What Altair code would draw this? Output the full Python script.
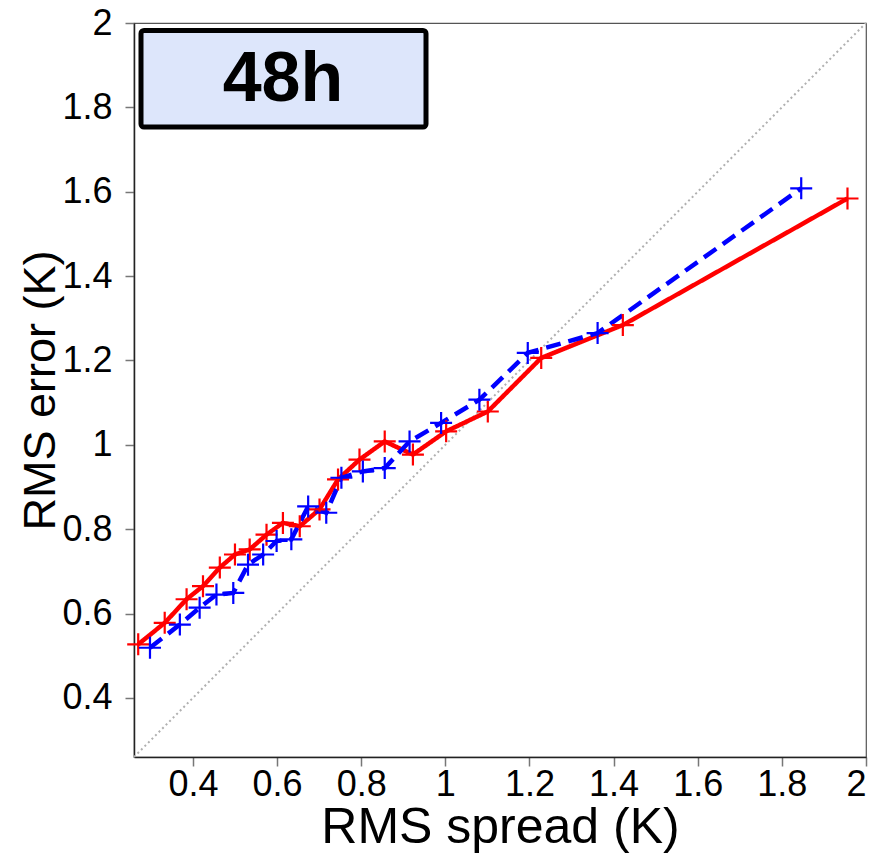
import altair as alt
import pandas as pd

# Data
red_x = [0.270, 0.333, 0.385, 0.424, 0.464, 0.500, 0.535, 0.575, 0.614, 0.654,
         0.701, 0.745, 0.796, 0.856, 0.923, 1.002, 1.101, 1.228, 1.422, 1.956]
red_y = [0.527, 0.578, 0.634, 0.665, 0.709, 0.740, 0.752, 0.787, 0.815, 0.807,
         0.847, 0.918, 0.965, 1.008, 0.977, 1.032, 1.079, 1.206, 1.284, 1.584]
blue_x = [0.298, 0.369, 0.416, 0.456, 0.496, 0.531, 0.567, 0.599, 0.634, 0.674,
          0.717, 0.753, 0.804, 0.856, 0.915, 0.990, 1.081, 1.196, 1.362, 1.846]
blue_y = [0.519, 0.574, 0.614, 0.645, 0.649, 0.716, 0.740, 0.772, 0.776, 0.854,
          0.839, 0.922, 0.937, 0.945, 1.008, 1.052, 1.107, 1.218, 1.265, 1.608]
diag_vals = [0.26, 2.0]
ticks = [0.4, 0.6, 0.8, 1.0, 1.2, 1.4, 1.6, 1.8, 2.0]
lead_label = "48h"

df = pd.concat([
    pd.DataFrame({"spread": red_x, "error": red_y, "series": "red", "order": range(len(red_x))}),
    pd.DataFrame({"spread": blue_x, "error": blue_y, "series": "blue", "order": range(len(blue_x))}),
])
diag_df = pd.DataFrame({"spread": diag_vals, "error": diag_vals})

FONT = "Liberation Sans"
xs = alt.Scale(domain=[0.26, 2.0], nice=False, zero=False)
ys = alt.Scale(domain=[0.26, 2.0], nice=False, zero=False)

x_enc = alt.X("spread:Q", scale=xs, title="RMS spread (K)",
              axis=alt.Axis(values=ticks, format="~g", grid=False, titleFontSize=50, titlePadding=0))
y_enc = alt.Y("error:Q", scale=ys, title="RMS error (K)",
              axis=alt.Axis(values=ticks, format="~g", grid=False, titleFontSize=45, titlePadding=-2))

color = alt.Color("series:N", scale=alt.Scale(domain=["red", "blue"], range=["#ff0000", "#0000ff"]), legend=None)
dash = alt.StrokeDash("series:N", scale=alt.Scale(domain=["red", "blue"], range=[[1, 0], [15, 8]]), legend=None)

diag = alt.Chart(diag_df).mark_line(color="#b0b0b0", strokeWidth=2, strokeDash=[2, 3]).encode(x=x_enc, y=y_enc)

lines = alt.Chart(df).mark_line(strokeWidth=4.5).encode(
    x=x_enc, y=y_enc, color=color, strokeDash=dash, detail="series:N", order="order:Q")

points = alt.Chart(df).mark_point(
    shape="M-1,0L1,0M0,-1L0,1", filled=False, size=484, strokeWidth=2.2, opacity=1
).encode(x=x_enc, y=y_enc, color=color)

box = alt.Chart(pd.DataFrame({"t": [lead_label]})).mark_rect(
    fill="#dde6fb", stroke="#000000", strokeWidth=5, cornerRadius=3
).encode(x=alt.value(7), x2=alt.value(292), y=alt.value(7.5), y2=alt.value(104))

label = alt.Chart(pd.DataFrame({"t": [lead_label]})).mark_text(
    font=FONT, fontSize=70, fontWeight=900, color="#000000", align="center", baseline="alphabetic"
).encode(x=alt.value(149), y=alt.value(78), text="t:N")

chart = alt.layer(diag, lines, points, box, label).properties(
    width=732, height=734,
    padding={"left": 126, "top": 15, "right": 18, "bottom": 98},
    autosize=alt.AutoSizeParams(type="none"),
).configure_view(stroke="#555555", strokeWidth=1.2).configure_axis(
    labelFont=FONT, titleFont=FONT, labelFontSize=36,
    titleFontWeight="normal", labelColor="#000000", titleColor="#000000",
    domainColor="#222222", domainWidth=1.5, tickColor="#777777", tickWidth=1.5, tickSize=9,
).configure_axisX(labelPadding=1).configure_axisY(labelPadding=13)

chart.save("out.html", embed_options={"renderer": "svg", "actions": False})
